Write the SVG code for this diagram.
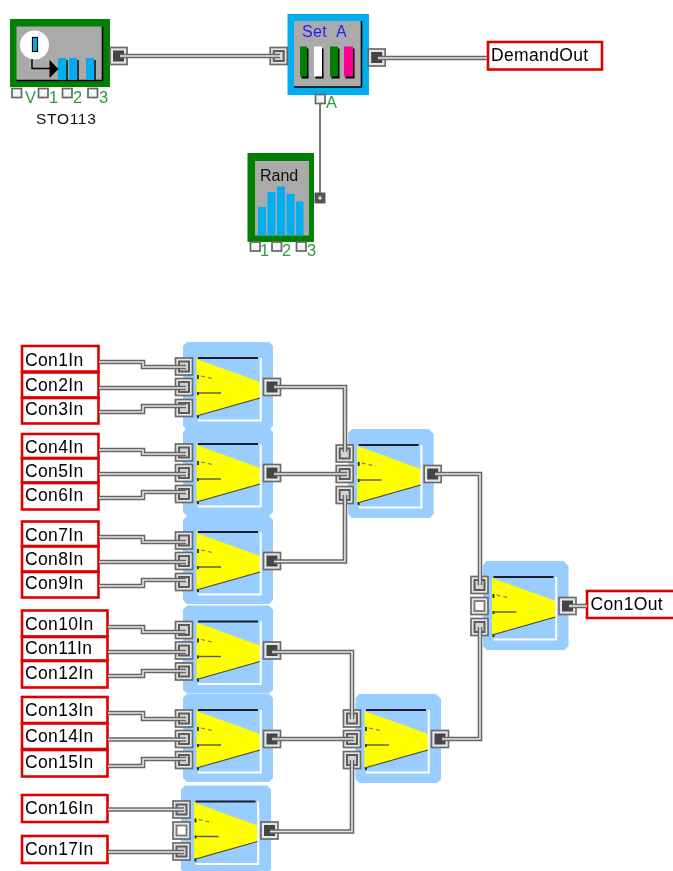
<svg xmlns="http://www.w3.org/2000/svg" width="673" height="871" viewBox="0 0 673 871">
<style>
text{font-family:"Liberation Sans",Arial,sans-serif}
.lbl{font-size:17.5px;letter-spacing:.35px;fill:#000}
.box{fill:#fff;stroke:#dc0000;stroke-width:2.6}
.case{fill:none;stroke:#666;stroke-width:4.6;stroke-linejoin:miter}
.core{fill:none;stroke:#e4e4e4;stroke-width:1.6;stroke-linejoin:miter}
.pn{font-size:16.5px;fill:#2a9d3e}
.sp{fill:#f4f4f4;stroke:#666;stroke-width:1.7}
.sh{fill:#000}
</style>
<defs>
<filter id="soft" x="0" y="0" width="100%" height="100%"><feGaussianBlur stdDeviation="0.35"/></filter>
<g id="body">
<polygon points="13.5,17 77,40 77,56 13.5,74" fill="#ffff00"/>
<path d="M15 16H75" stroke="#1c1c2a" stroke-width="1.8"/>
<path d="M77.7 16V78.5H15" fill="none" stroke="#fff" stroke-width="2"/>
<path d="M15 33v4M15 50v3M15 73v3" stroke="#1c1c2a" stroke-width="1.8"/>
<path d="M18 34L32 37" stroke="#777" stroke-width="1.2" stroke-dasharray="4 3"/>
<path d="M15 51H38" stroke="#555" stroke-width="1.4"/>
<path d="M13.5 74L77 56" stroke="#444" stroke-width="1.1"/>
</g>
<polygon id="bg-wide" fill="#99ccff" points="4,0 86,0 90,4 90,84 86,88 4,88 0,84 0,4"/>
<polygon id="bg-narrow" fill="#99ccff" points="8,0 85,0 90,5 90,85 86,89 8,89 4.5,85 4.5,4"/>
<g id="port-in"><rect x="-8.5" y="-8.5" width="17" height="17" fill="#e6e6e6" stroke="#6a6a6a" stroke-width="1.7"/><rect x="-5" y="-5" width="10" height="10" fill="#d4d4d4" stroke="#5c5c5c" stroke-width="2"/></g>
<g id="port-open"><rect x="-8.5" y="-8.5" width="17" height="17" fill="#e6e6e6" stroke="#6a6a6a" stroke-width="1.7"/><rect x="-5" y="-5" width="10" height="10" fill="#fff" stroke="#777" stroke-width="1.8"/></g>
<g id="port-out"><rect x="-8.5" y="-8.5" width="17" height="17" fill="#e6e6e6" stroke="#6a6a6a" stroke-width="1.7"/><rect x="-5.5" y="-5.5" width="11" height="11" fill="#444"/></g>
<g id="mux3"><use href="#body"/><use href="#port-in" x="1" y="24.5"/><use href="#port-in" x="1" y="45"/><use href="#port-in" x="1" y="66"/><use href="#port-out" x="89" y="45"/></g>
<g id="mux2"><use href="#body"/><use href="#port-in" x="1" y="24"/><use href="#port-open" x="1" y="45"/><use href="#port-in" x="1" y="66"/><use href="#port-out" x="89" y="45"/></g>
</defs>
<rect width="673" height="871" fill="#fff"/>
<g filter="url(#soft)">
<g id="sto113">
<rect x="10" y="19" width="100" height="68" fill="#008000"/>
<rect x="16.5" y="26.5" width="86" height="54" fill="#aaa"/>
<path d="M102.5 26.5V80.5H16.5" fill="none" stroke="#000" stroke-width="1.6"/>
<rect x="58" y="58" width="8" height="22" fill="#00aeef"/><rect x="69" y="58" width="8" height="22" fill="#00aeef"/><rect x="86" y="58" width="8" height="22" fill="#00aeef"/>
<path d="M67 60V80M78 60V80M95 60V80" stroke="#000" stroke-width="1.4"/>
<circle cx="34.5" cy="45" r="14.5" fill="#fff"/>
<rect x="32.5" y="37.5" width="5" height="14" fill="#00aeef" stroke="#000" stroke-width="1.2"/>
<path d="M32 59V68.5H50" fill="none" stroke="#000" stroke-width="1.4"/>
<polygon points="49.5,60 58.5,69 49.5,78" fill="#000"/>
<rect x="12" y="88.5" width="9.5" height="9" class="sp"/><rect x="38.5" y="88.5" width="9.5" height="9" class="sp"/><rect x="62.5" y="88.5" width="9.5" height="9" class="sp"/><rect x="88" y="88.5" width="9.5" height="9" class="sp"/>
<text class="pn" x="25" y="103">V</text><text class="pn" x="49" y="103">1</text><text class="pn" x="73" y="103">2</text><text class="pn" x="99" y="103">3</text>
<text x="36" y="124" font-size="15.5" letter-spacing=".7" fill="#111">STO113</text>
<use href="#port-out" x="118.5" y="56"/>
</g>
<g id="set-a">
<rect x="287.5" y="14" width="81.5" height="81" fill="#00aeef"/>
<rect x="294" y="21" width="67.5" height="66" fill="#aaa"/>
<path d="M361.5 21V87H294" fill="none" stroke="#000" stroke-width="1.6"/>
<text x="302" y="37" font-size="16" letter-spacing=".4" fill="#2222ee" xml:space="preserve">Set  A</text>
<rect x="301.5" y="48.5" width="7" height="30" class="sh"/><rect x="315.5" y="48.5" width="8" height="30" class="sh"/><rect x="331.5" y="48.5" width="8" height="30" class="sh"/><rect x="345.5" y="48.5" width="9" height="30" class="sh"/>
<rect x="300" y="46.5" width="7" height="30" fill="#008000"/><rect x="314" y="46.5" width="8" height="30" fill="#fff"/><rect x="330" y="46.5" width="8" height="30" fill="#008000"/><rect x="344" y="46.5" width="9" height="30" fill="#ff0090"/>
<use href="#port-in" x="278.7" y="56"/>
<use href="#port-out" x="376.7" y="57.5"/>
<rect x="315.5" y="94.5" width="9.5" height="9" class="sp"/>
<text class="pn" x="326" y="108">A</text>
</g>
<g id="rand">
<rect x="247.5" y="153" width="66.5" height="89" fill="#008000"/>
<rect x="255" y="161" width="54" height="74.5" fill="#aaa"/>
<text x="260" y="181" font-size="16" fill="#111">Rand</text>
<g fill="#00aeef"><rect x="258" y="207" width="8" height="28"/><rect x="267.5" y="192" width="8" height="43"/><rect x="277" y="186.5" width="8" height="48.5"/><rect x="286.5" y="194" width="8" height="41"/><rect x="296" y="201.5" width="7.5" height="33.5"/></g>
<rect x="250.5" y="242" width="9.5" height="9" class="sp"/><rect x="272" y="242" width="9.5" height="9" class="sp"/><rect x="296.5" y="242" width="9.5" height="9" class="sp"/>
<text class="pn" x="260" y="256">1</text><text class="pn" x="282" y="256">2</text><text class="pn" x="307" y="256">3</text>
<rect x="314.5" y="192.5" width="11" height="11" fill="#555"/><rect x="318.5" y="196.5" width="3" height="3" fill="#ddd"/>
</g>
<g id="demand-out"><rect x="488" y="42" width="114" height="27.5" class="box"/><text class="lbl" x="491" y="61">DemandOut</text></g>
<g id="mux-1"><use href="#bg-wide" x="183" y="342"/><use href="#mux3" x="183" y="342"/></g>
<g id="mux-2"><use href="#bg-wide" x="183" y="428"/><use href="#mux3" x="183" y="428"/></g>
<g id="mux-3"><use href="#bg-wide" x="183" y="516"/><use href="#mux3" x="183" y="516"/></g>
<g id="mux-4"><use href="#bg-wide" x="183" y="605.5"/><use href="#mux3" x="183" y="605.5"/></g>
<g id="mux-5"><use href="#bg-wide" x="183" y="694"/><use href="#mux3" x="183" y="694"/></g>
<g id="mux-6"><use href="#bg-wide" x="181" y="785.5"/><use href="#mux2" x="180.5" y="785.5"/></g>
<g id="mux-7"><use href="#bg-narrow" x="343.7" y="429"/><use href="#mux3" x="343.7" y="429"/></g>
<g id="mux-8"><use href="#bg-narrow" x="478.5" y="561"/><use href="#mux2" x="478.5" y="561"/></g>
<g id="mux-9"><use href="#bg-narrow" x="351" y="694"/><use href="#mux3" x="351" y="694"/></g>
<g id="con-1"><rect x="22" y="346" width="76.5" height="25.5" class="box"/><text class="lbl" x="25" y="366">Con1In</text></g>
<g id="con-2"><rect x="22" y="372.5" width="76.5" height="25" class="box"/><text class="lbl" x="25" y="391">Con2In</text></g>
<g id="con-3"><rect x="22" y="398" width="76.5" height="25.5" class="box"/><text class="lbl" x="25" y="415">Con3In</text></g>
<g id="con-4"><rect x="22" y="434" width="76.5" height="24" class="box"/><text class="lbl" x="25" y="453">Con4In</text></g>
<g id="con-5"><rect x="22" y="458.5" width="76.5" height="24" class="box"/><text class="lbl" x="25" y="477">Con5In</text></g>
<g id="con-6"><rect x="22" y="483" width="76.5" height="26.5" class="box"/><text class="lbl" x="25" y="501">Con6In</text></g>
<g id="con-7"><rect x="22" y="521.5" width="76.5" height="24.5" class="box"/><text class="lbl" x="25" y="541">Con7In</text></g>
<g id="con-8"><rect x="22" y="546.5" width="76.5" height="25" class="box"/><text class="lbl" x="25" y="565">Con8In</text></g>
<g id="con-9"><rect x="22" y="572" width="76.5" height="25.5" class="box"/><text class="lbl" x="25" y="589">Con9In</text></g>
<g id="con-10"><rect x="22" y="610.5" width="85.5" height="26" class="box"/><text class="lbl" x="25" y="630">Con10In</text></g>
<g id="con-11"><rect x="22" y="637" width="85.5" height="23.5" class="box"/><text class="lbl" x="25" y="654">Con11In</text></g>
<g id="con-12"><rect x="22" y="661" width="85.5" height="26.5" class="box"/><text class="lbl" x="25" y="679">Con12In</text></g>
<g id="con-13"><rect x="22" y="697" width="85.5" height="26" class="box"/><text class="lbl" x="25" y="716">Con13In</text></g>
<g id="con-14"><rect x="22" y="723.5" width="85.5" height="25.5" class="box"/><text class="lbl" x="25" y="742">Con14In</text></g>
<g id="con-15"><rect x="22" y="750" width="85.5" height="26.5" class="box"/><text class="lbl" x="25" y="768">Con15In</text></g>
<g id="con-16"><rect x="22" y="795" width="85.5" height="27" class="box"/><text class="lbl" x="25" y="814">Con16In</text></g>
<g id="con-17"><rect x="22" y="836" width="85.5" height="27" class="box"/><text class="lbl" x="25" y="855">Con17In</text></g>
<g id="con-out"><rect x="587" y="591" width="100" height="27" class="box"/><text class="lbl" x="590.5" y="610">Con1Out</text></g>
<g id="connectors">
<path d="M320 104V193" fill="none" stroke="#777" stroke-width="2"/>
<path class="case" d="M120 56H280"/><path class="core" d="M120 56H280"/>
<path class="case" d="M378 58H487"/><path class="core" d="M378 58H487"/>
<path class="case" d="M99 362H143V367H186"/><path class="core" d="M99 362H143V367H186"/>
<path class="case" d="M99 388H186"/><path class="core" d="M99 388H186"/>
<path class="case" d="M99 412H143V406H186"/><path class="core" d="M99 412H143V406H186"/>
<path class="case" d="M99 450H143V454H186"/><path class="core" d="M99 450H143V454H186"/>
<path class="case" d="M99 474H186"/><path class="core" d="M99 474H186"/>
<path class="case" d="M99 498H143V492H186"/><path class="core" d="M99 498H143V492H186"/>
<path class="case" d="M99 537H143V542H186"/><path class="core" d="M99 537H143V542H186"/>
<path class="case" d="M99 562H186"/><path class="core" d="M99 562H186"/>
<path class="case" d="M99 586H143V580H186"/><path class="core" d="M99 586H143V580H186"/>
<path class="case" d="M108 627H143V632H186"/><path class="core" d="M108 627H143V632H186"/>
<path class="case" d="M108 652H186"/><path class="core" d="M108 652H186"/>
<path class="case" d="M108 676H143V671H186"/><path class="core" d="M108 676H143V671H186"/>
<path class="case" d="M108 713H143V719H186"/><path class="core" d="M108 713H143V719H186"/>
<path class="case" d="M108 739.5H186"/><path class="core" d="M108 739.5H186"/>
<path class="case" d="M108 766H143V759H186"/><path class="core" d="M108 766H143V759H186"/>
<path class="case" d="M108 809.5H184"/><path class="core" d="M108 809.5H184"/>
<path class="case" d="M108 852H184"/><path class="core" d="M108 852H184"/>
<path class="case" d="M274 387H345V452"/><path class="core" d="M274 387H345V452"/>
<path class="case" d="M274 474H347"/><path class="core" d="M274 474H347"/>
<path class="case" d="M274 561.5H345V495"/><path class="core" d="M274 561.5H345V495"/>
<path class="case" d="M272 652H352V719"/><path class="core" d="M272 652H352V719"/>
<path class="case" d="M272 739H354"/><path class="core" d="M272 739H354"/>
<path class="case" d="M270 831.5H352V760"/><path class="core" d="M270 831.5H352V760"/>
<path class="case" d="M435 474H480V585"/><path class="core" d="M435 474H480V585"/>
<path class="case" d="M442 739H480V627"/><path class="core" d="M442 739H480V627"/>
<path class="case" d="M569 606H587"/><path class="core" d="M569 606H587"/>
</g>
</g>
</svg>
